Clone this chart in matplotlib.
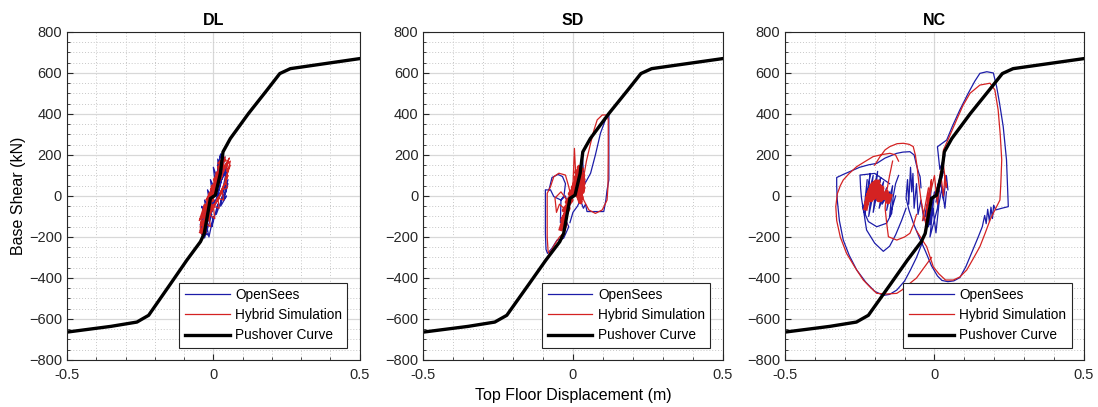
import numpy as np
import matplotlib
matplotlib.use("Agg")
import matplotlib.pyplot as plt
from matplotlib.ticker import MultipleLocator

plt.rcParams["font.family"] = ["Liberation Sans", "DejaVu Sans"]

nan = np.nan

# pushover curve (same in all panels)
po_x = [-0.5, -0.35, -0.261, -0.221, -0.147, -0.09, -0.044, -0.031, -0.01, 0.007, 0.024, 0.033,
        0.058, 0.12, 0.183, 0.227, 0.263, 0.35, 0.5]
po_y = [-664, -636, -615, -582, -430, -312, -223, -183, -12, 4, 110, 215,
        280, 402, 516, 597, 621, 639, 670]

# DL
dl_os_x = [0.000, -0.015, 0.010, -0.025, 0.005, -0.035, -0.010, -0.040, -0.020, -0.030, -0.005, -0.045,
           -0.015, -0.025, 0.000, -0.020, 0.015, -0.010, 0.020, 0.000, 0.030, 0.010, 0.025, 0.015,
           0.040, 0.020, 0.045, 0.030, 0.050, 0.035, 0.045, 0.025, 0.040, 0.015, 0.030, 0.005,
           0.020, -0.010, 0.010, -0.025, -0.005, -0.035, -0.015,
           -0.010, -0.035, -0.020, -0.045, -0.030, -0.040, -0.020, -0.030, -0.010, -0.020, 0.000,
           -0.010, 0.010, 0.000, 0.020, 0.015, 0.025, 0.030, 0.035, 0.045, 0.040, 0.050, 0.035,
           0.045, 0.025, 0.030, 0.010, 0.015, -0.005, 0.000, -0.015, -0.025]
dl_os_y = [0, -70, 30, -110, -20, -150, -60, -190, -120, -205, -90, -170,
           -40, -130, 20, -50, 60, 10, 110, 40, 170, 90, 205, 140,
           190, 60, 120, 20, 80, -10, 30, -30, 50, 0, 90, -40,
           10, -80, -30, -140, -70, -180, -100,
           -100, -160, -190, -140, -90, -50, -110, -20, -60, 30, -20,
           80, 20, 140, 60, 180, 120, 200, 100, 150, 40, 60, -20,
           0, -50, -10, -90, -40, -150, -100, -200, -130]
dl_hs_x = [0.000, 0.020, -0.010, 0.030, 0.005, 0.045, 0.020, 0.055, 0.035, 0.058, 0.040, 0.050,
           0.025, 0.040, 0.010, 0.030, -0.005, 0.015, -0.020, 0.000, -0.030, -0.010, -0.040, -0.025,
           -0.045, -0.030, -0.040, -0.015, -0.030, -0.005, -0.020, 0.005, -0.010, 0.015, 0.000,
           0.025, 0.010, 0.035, 0.020,
           0.030, 0.050, 0.045, 0.058, 0.040, 0.048, 0.030, 0.035, 0.015, 0.020, 0.000, 0.005,
           -0.015, -0.010, -0.030, -0.025, -0.045, -0.040, -0.048, -0.030, -0.035, -0.015, -0.025,
           0.000, -0.010, 0.015, 0.005, 0.025, 0.015, 0.040]
dl_hs_y = [0, 60, -20, 100, 20, 150, 90, 185, 140, 170, 60, 100,
           20, 60, -30, 20, -70, -10, -120, -40, -160, -80, -185, -120,
           -150, -60, -100, -20, -80, 10, -40, 40, 0, 80, 30,
           130, 70, 160, 110,
           110, 170, 120, 150, 80, 40, 30, -20, -10, -60, -50, -110,
           -90, -150, -130, -180, -170, -100, -120, -40, -80, 0, -20,
           50, 30, 100, 90, 150, 160, 190]
dl_blob_x = [-0.040, -0.030, -0.036, -0.024, -0.030, -0.018, -0.024, -0.010, -0.016, -0.004, -0.010,
             0.004, -0.002, 0.012, 0.006, 0.020, 0.014, 0.026, 0.020, 0.032, 0.026, 0.036]
dl_blob_y = [-175, -150, -130, -120, -95, -90, -60, -55, -25, -20, 10,
             15, 45, 50, 80, 85, 110, 115, 140, 145, 165, 175]

# SD
sd_os_x = [0.000, -0.015, -0.025, -0.040, -0.064, -0.075, -0.081, -0.092, -0.092, -0.092, -0.090,
           -0.085, -0.070, -0.053, -0.040, -0.031, -0.020, -0.014, -0.030, -0.042, -0.040,
           -0.030, -0.025, -0.035, -0.050, -0.070, -0.080, nan,
           0.010, 0.020, 0.031, 0.035, 0.040, 0.059, 0.075, 0.092, 0.108, 0.120, 0.120, 0.120,
           0.120, 0.114, 0.110, 0.103, 0.075, 0.047, 0.042, 0.035, 0.025, 0.015, 0.000, -0.010]
sd_os_y = [0, -60, 0, -20, -3, 30, 29, 30, -80, -180, -260,
           -280, -255, -215, -212, -206, -170, -150, -100, -130, -20,
           0, 60, 95, 105, 90, 30, nan,
           20, 80, 208, 120, 60, 111, 200, 306, 370, 403, 300, 180,
           78, 29, -20, -76, -76, -76, -40, -60, -20, -50, -80, -130]
sd_hs_x = [0.000, -0.010, -0.014, -0.025, -0.047, -0.064, -0.075, -0.086, -0.086, -0.086, -0.083,
           -0.079, -0.070, -0.059, -0.045, -0.030, -0.020, -0.030, -0.045, -0.055, -0.060, -0.040,
           -0.020, nan,
           0.000, 0.005, 0.010, 0.020, 0.030, 0.036, 0.045, 0.059, 0.070, 0.081, 0.098, 0.114,
           0.118, 0.118, 0.117, 0.114, 0.098, 0.075, 0.053, 0.036, 0.025]
sd_hs_y = [0, 20, 45, 102, 111, 94, 45, 13, -100, -200, -270,
           -282, -260, -231, -200, -180, -140, -60, -40, -80, -10, 20,
           -20, nan,
           50, 232, 80, 150, 60, 94, 170, 257, 320, 371, 395, 395,
           370, 200, 45, -20, -68, -85, -68, -20, 30]
sd_blob_x = [-0.040, -0.025, -0.035, -0.015, -0.030, -0.005, -0.020, 0.005, -0.010, 0.015, 0.000,
             0.025, 0.010, 0.030, 0.015, 0.035, 0.020, 0.032, 0.012, 0.028, 0.008, 0.035, 0.018,
             0.030, 0.005, 0.025, 0.015, 0.035, 0.010, 0.030, 0.020, 0.034, 0.022]
sd_blob_y = [-160, -90, -120, -60, -70, -20, -30, 20, 10, 60, 40,
             100, 80, 130, 110, 60, 140, 20, 120, -10, 90, 40, 0,
             110, 60, -30, 90, 80, 30, 50, 120, 100, 70]

# NC
nc_os_x = [0.000, 0.020, 0.005, 0.030, 0.010, 0.035, 0.018, 0.010, 0.041, 0.060, 0.085, 0.113, 0.135,
           0.152, 0.175, 0.197, 0.208, 0.218, 0.230, 0.241, 0.247, 0.225, 0.205, 0.198, 0.194,
           0.189, 0.184, 0.178, 0.173, 0.168, 0.160, 0.145, 0.125, 0.105, 0.085, 0.065, 0.045,
           0.025, 0.010, -0.010, -0.030, -0.050, -0.070, -0.085, -0.095,
           -0.090, -0.086, -0.080, -0.076, -0.072, -0.068, -0.060, -0.055, -0.045, -0.035, -0.025,
           -0.015, -0.005, 0.005, 0.015, 0.025, 0.035, 0.040, nan,
           -0.040, -0.060, -0.080, -0.100, -0.126, -0.150, -0.171, -0.200, -0.230, -0.260, -0.285,
           -0.305, -0.318, -0.325, -0.327, -0.327, -0.305, -0.283, -0.250, -0.220, -0.193, -0.165,
           -0.126, -0.105, -0.082, -0.068, -0.060, -0.052, -0.048, -0.045, nan,
           -0.150, -0.200, -0.249, -0.247, -0.244, -0.238, -0.221, -0.193, -0.160, -0.143, -0.138,
           -0.130, -0.120, nan,
           -0.240, -0.232, -0.227, -0.200, -0.171, -0.150, -0.130, -0.110, -0.095, nan,
           -0.235, -0.225, -0.232, -0.215, -0.228, -0.205, -0.220, -0.198, -0.212, -0.190, -0.205,
           -0.180, -0.195, -0.170, -0.185, -0.160, -0.175, -0.150, -0.160, -0.140, -0.150, -0.130, nan,
           -0.030, -0.010, -0.020, 0.000, -0.015, 0.010, 0.020, 0.030, 0.040, 0.045]
nc_os_y = [0, 90, -30, 120, 40, 200, 130, 240, 273, 340, 420, 501, 560,
           598, 606, 600, 533, 450, 338, 176, -52, -60, -68, -45, -110,
           -55, -125, -65, -135, -95, -150, -205, -275, -345, -398, -414, -418,
           -412, -390, -340, -270, -205, -135, -70, -10,
           80, -40, 140, 20, 110, -60, 60, -90, -20, -120, -40,
           -140, -60, -180, -40, 40, -60, 20, nan,
           -225, -300, -360, -415, -459, -480, -485, -465, -420, -361, -290,
           -215, -120, -20, 50, 90, 105, 119, 140, 152, 159, 185,
           208, 214, 216, 200, 150, 110, 94, 40, nan,
           60, 110, 102, 40, -10, -68, -125, -150, -133, -85, -3,
           60, 100, nan,
           -40, -120, -166, -230, -270, -245, -190, -120, -60, nan,
           -60, 80, -90, 110, -40, 100, -100, 60, -30, 120, -80,
           90, -20, 70, -60, 40, -40, 20, -70, 50, -100, 0, nan,
           -100, 60, -150, 20, -200, -60, 80, -20, 100, 30]
nc_hs_x = [0.000, 0.015, 0.030, 0.030, 0.050, 0.074, 0.095, 0.119, 0.152, 0.186, 0.202, 0.213,
           0.220, 0.225, 0.222, 0.219, 0.200, 0.186, 0.170, 0.152, 0.130, 0.108, 0.085, 0.063,
           0.037, 0.015, -0.004, -0.026, -0.045, -0.060, nan,
           -0.010, -0.040, -0.060, -0.082, -0.105, -0.126, -0.160, -0.193, -0.215, -0.238, -0.265,
           -0.294, -0.315, -0.327, -0.330, -0.325, -0.315, -0.305, -0.285, -0.260, -0.230, -0.205,
           -0.175, -0.149, -0.130, -0.120, nan,
           -0.200, -0.182, -0.165, -0.149, -0.125, -0.104, -0.085, -0.071, -0.064, -0.058, -0.052,
           -0.045, -0.037, -0.030, nan,
           -0.140, -0.150, -0.160, -0.165, -0.160, -0.154, -0.126, -0.100, -0.082, -0.070, -0.060, nan,
           -0.040, -0.020, -0.030, -0.010, -0.025, 0.000, 0.010, 0.020, 0.030, 0.035, 0.040, 0.030]
nc_hs_y = [0, 60, 150, 224, 290, 371, 440, 501, 541, 550, 517, 420,
           300, 176, 60, -20, -75, -117, -180, -247, -305, -361, -395, -410,
           -410, -380, -345, -247, -205, -170, nan,
           -300, -360, -400, -426, -455, -475, -478, -475, -445, -410, -350,
           -280, -200, -120, -52, 10, 50, 78, 110, 143, 170, 192,
           202, 208, 200, 170, nan,
           150, 192, 225, 241, 255, 257, 252, 241, 200, 143, 60,
           -20, -85, -130, nan,
           170, 100, 20, -60, -130, -199, -215, -200, -182, -140, -90, nan,
           -120, 40, -150, 80, -60, 100, -40, 120, 0, 100, 40, 150]
nc_blob_x = [-0.230, -0.224, -0.228, -0.220, -0.225, -0.215, -0.221, -0.210, -0.216, -0.205, -0.212,
             -0.200, -0.207, -0.196, -0.203, -0.192, -0.199, -0.188, -0.195, -0.184, -0.191, -0.180,
             -0.187, -0.178, -0.184, -0.175, -0.180, -0.172, -0.168, -0.160, -0.155, -0.148]
nc_blob_y = [-60, -20, -40, 10, -20, 30, -10, 50, 10, 60, -20,
             50, 20, 70, -10, 60, 20, 70, 0, 50, 10, 40,
             -20, 30, 0, 40, -20, 10, -10, 20, -30, 0]

titles = ["DL", "SD", "NC"]
os_data = [(dl_os_x, dl_os_y), (sd_os_x, sd_os_y), (nc_os_x, nc_os_y)]
hs_data = [(dl_hs_x, dl_hs_y), (sd_hs_x, sd_hs_y), (nc_hs_x, nc_hs_y)]
blobs = [(dl_blob_x, dl_blob_y), (sd_blob_x, sd_blob_y), (nc_blob_x, nc_blob_y)]

BLUE = "#1c1ca8"
RED = "#d42222"

fig = plt.figure(figsize=(10.98, 4.07), dpi=100)
positions = [[0.061, 0.1155, 0.2666, 0.806],
             [0.3855, 0.1155, 0.2726, 0.806],
             [0.7149, 0.1155, 0.2723, 0.806]]

for i, pos in enumerate(positions):
    ax = fig.add_axes(pos)
    ax.plot(os_data[i][0], os_data[i][1], color=BLUE, lw=0.9, label="OpenSees")
    ax.plot(hs_data[i][0], hs_data[i][1], color=RED, lw=0.9, label="Hybrid Simulation")
    ax.plot(blobs[i][0], blobs[i][1], color=RED, lw=3.2, solid_joinstyle="round")
    ax.plot(po_x, po_y, color="black", lw=2.4, label="Pushover Curve")

    ax.set_xlim(-0.5, 0.5)
    ax.set_ylim(-800, 800)
    ax.set_xticks([-0.5, 0, 0.5])
    ax.set_xticklabels(["-0.5", "0", "0.5"])
    ax.set_yticks(np.arange(-800, 801, 200))
    ax.xaxis.set_minor_locator(MultipleLocator(0.1))
    ax.yaxis.set_minor_locator(MultipleLocator(50))
    ax.grid(which="major", color="#d8d8d8", lw=0.9, ls="-")
    ax.grid(which="minor", color="#c8c8c8", lw=0.7, ls=(0, (1, 2)))
    ax.set_axisbelow(True)
    ax.tick_params(which="both", direction="in", labelsize=10.5, colors="#262626")
    ax.tick_params(which="major", length=4)
    ax.tick_params(which="minor", length=2)
    ax.tick_params(axis="x", pad=6)
    for s in ax.spines.values():
        s.set_color("#262626")
        s.set_linewidth(0.8)
    ax.set_title(titles[i], fontsize=11.5, fontweight="bold", pad=5)

    leg = ax.legend(loc="lower right", fontsize=9.8, handlelength=3.3, fancybox=False,
                    framealpha=1, edgecolor="#262626", borderaxespad=0.9, labelspacing=0.45,
                    handletextpad=0.4, borderpad=0.4)
    leg.get_frame().set_linewidth(0.8)

    if i == 0:
        ax.set_ylabel("Base Shear (kN)", fontsize=11.5, labelpad=2)
    if i == 1:
        ax.set_xlabel("Top Floor Displacement (m)", fontsize=11.5, labelpad=4)

fig.savefig("out.png", dpi=100)
